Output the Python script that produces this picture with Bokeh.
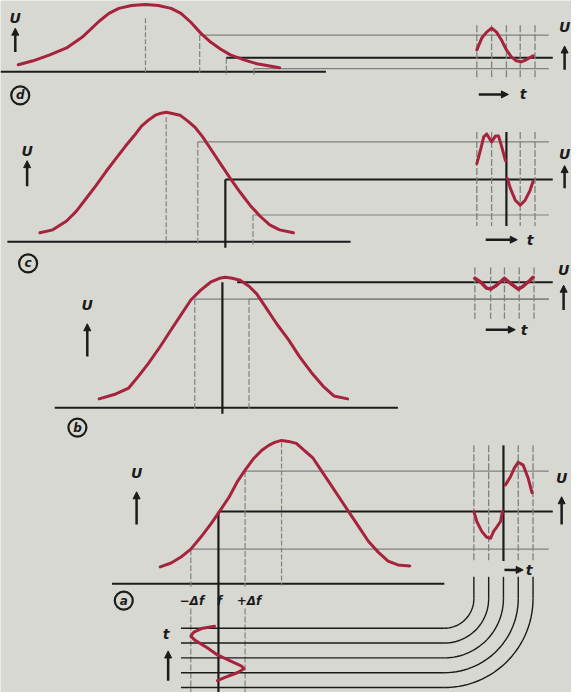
import numpy as np
from bokeh.plotting import figure
from bokeh.models import Range1d, Arrow, NormalHead
from bokeh.core.properties import value
from bokeh.embed import file_html
from bokeh.resources import INLINE

# ---------------- data (page-pixel space) ----------------
# resonance curves of the four panels
d_curve_x = [18, 33, 50, 67, 83, 100, 110, 120, 133, 147, 160, 173, 183, 193, 203, 213, 223, 233, 247, 260, 283]
d_curve_y = [65, 61, 55, 48, 37, 21, 13, 8, 5, 4, 5, 8, 13, 22, 33, 42, 49, 55, 60, 64, 68]
c_curve_x = [40, 53, 67, 77, 87, 97, 107, 117, 127, 137, 143, 150, 157, 163, 168, 173, 182, 190, 197,
             205, 213, 223, 233, 243, 253, 263, 273, 283, 297]
c_curve_y = [235, 232, 223, 213, 200, 187, 173, 160, 147, 135, 127, 121, 116, 114, 113, 114, 116, 122, 128,
             138, 150, 165, 180, 194, 207, 218, 227, 232, 235]
b_curve_x = [100, 117, 130, 140, 150, 162, 173, 183, 193, 203, 213, 222, 228, 235, 243, 252, 260, 270,
             280, 292, 303, 315, 327, 338, 352]
b_curve_y = [403, 398, 392, 380, 367, 350, 333, 318, 303, 293, 285, 281, 280, 281, 283, 289, 297, 312,
             327, 343, 360, 376, 390, 400, 403]
a_curve_x = [162, 173, 183, 193, 203, 213, 222, 232, 240, 248, 257, 265, 272, 278, 285, 292, 300, 308,
             317, 325, 333, 343, 353, 363, 373, 383, 393, 403, 415]
a_curve_y = [573, 569, 563, 555, 543, 530, 517, 502, 487, 475, 463, 455, 450, 447, 445, 446, 448, 455,
             463, 475, 487, 502, 517, 532, 547, 558, 567, 571, 572]

# baselines (y, x from, x to) and peak markers
base_y = {"d": 72, "c": 244, "b": 412, "a": 590}
base_x0 = {"d": 0, "c": 7, "b": 55, "a": 113}
base_x1 = {"d": 330, "c": 355, "b": 403, "a": 450}
peak_x = {"d": 147, "c": 168, "a": 285}
peak_top = {"d": 18, "c": 118, "a": 447}

# frequencies  -df, f, +df  and output levels on the curve
freq_x = {"d": [202, 229, 257], "c": [200, 228, 256], "b": [197, 225, 252], "a": [193, 221, 248]}
level_y = {"d": [35, 58, 69], "c": [143, 181, 217], "b": [302, 285, 302], "a": [555, 517, 476]}
level_x0 = {"d": [202, 229, 257], "c": [200, 228, 256], "b": [197, 240, 252], "a": [193, 221, 248]}

# time-domain output panels
wave_cols = {"d": [483, 498, 513, 527, 542], "c": [483, 498, 513, 527, 542],
             "b": [481, 497, 511, 526, 541], "a": [480, 495, 510, 525, 540]}
wave_top = {"d": 25, "c": 133, "b": 270, "a": 450}
wave_bot = {"d": 80, "c": 228, "b": 322, "a": 567}
wave_black = {"d": False, "c": True, "b": False, "a": True}

d_wave_x = [483, 488, 493, 498, 503, 508, 513, 518, 523, 528, 533, 540]
d_wave_y = [50, 38, 32, 28, 32, 40, 50, 57, 61, 62, 60, 56]
c_wave1_x = [483, 487, 490, 493, 498, 502, 505, 508, 512]
c_wave1_y = [165, 150, 138, 135, 143, 137, 137, 147, 162]
c_wave2_x = [514, 517, 522, 527, 532, 537, 540]
c_wave2_y = [180, 190, 202, 207, 202, 192, 183]
b_wave_x = [481, 487, 493, 497, 503, 511, 517, 525, 530, 537, 540]
b_wave_y = [281, 285, 291, 292, 288, 281, 286, 292, 289, 283, 280]
a_wave1_x = [480, 483, 488, 493, 497, 500, 503, 507, 509]
a_wave1_y = [517, 527, 537, 543, 544, 537, 533, 527, 517]
a_wave2_x = [512, 517, 521, 525, 530, 535, 539]
a_wave2_y = [490, 482, 473, 467, 470, 483, 498]

# frequency sweep (bottom left) and the lead lines
sweep_x = [217, 205, 196, 193, 197, 210, 220, 233, 244, 247, 240, 227, 220]
sweep_y = [633, 635, 639, 643, 647, 655, 662, 668, 673, 676, 680, 685, 688]
lead_levels = [635, 650, 665, 680, 695]
lead_x0 = 183
bend_x, bend_y = 450, 605

# labels
u_left = {"d": (15, 18, 52, 28), "c": (27, 152, 188, 162), "b": (88, 308, 360, 327), "a": (138, 478, 530, 497)}
u_right = {"d": (572, 27, 70, 46), "c": (572, 155, 190, 167), "b": (571, 273, 313, 288), "a": (569, 483, 530, 502)}
t_arrow = {"d": (485, 515, 95, 530), "c": (492, 524, 242, 537), "b": (492, 522, 333, 531), "a": (511, 530, 576, 536)}
circ = {"d": (20, 96), "c": (28, 266), "b": (78, 432), "a": (125, 607)}
df_labels = ["−Δf", "f", "+Δf"]
df_label_x = [194, 222, 252]
df_label_y = 607

# ---------------- styles ----------------
PAPER = "#d8d8d3"
RED = "#a5233c"
BLACK = "#1b1b1b"
GRAY = "#808080"
FONT = value("DejaVu Sans")

p = figure(width=571, height=692, x_range=Range1d(0, 579), y_range=Range1d(700, 0),
           output_backend="svg", toolbar_location=None, min_border=0)
p.axis.visible = False
p.grid.visible = False
p.background_fill_color = PAPER
p.border_fill_color = PAPER
p.outline_line_color = None


def arrow(x0, y0, x1, y1, w=2.5, size=7):
    p.add_layout(Arrow(end=NormalHead(size=size, fill_color=BLACK, line_color=BLACK, line_width=1),
                       x_start=x0, y_start=y0, x_end=x1, y_end=y1, line_width=w, line_color=BLACK))


def label(x, y, s, size="15px", style="bold italic"):
    p.text(x=[x], y=[y], text=[s], text_font=FONT, text_font_style=style, text_font_size=size,
           text_align="center", text_baseline="middle", text_color=BLACK)


curves = {"d": (d_curve_x, d_curve_y), "c": (c_curve_x, c_curve_y),
          "b": (b_curve_x, b_curve_y), "a": (a_curve_x, a_curve_y)}

for k in ["d", "c", "b", "a"]:
    by = base_y[k]
    # baseline
    p.line([base_x0[k], base_x1[k]], [by, by], line_color=BLACK, line_width=2)
    # peak marker
    if k in peak_x:
        p.line([peak_x[k], peak_x[k]], [peak_top[k], by + 2], line_color=GRAY, line_width=1.2, line_dash="5 2")
    # frequency verticals + output level lines
    for i in range(3):
        fx, ly = freq_x[k][i], level_y[k][i]
        center = (i == 1)
        if center and k != "d":
            vbot = 700 if k == "a" else by + 6
            p.line([fx, fx], [ly, vbot], line_color=BLACK, line_width=2.2)
        else:
            p.line([fx, fx], [ly, by + 3], line_color=GRAY, line_width=1.2, line_dash="6 2")
        if center:
            p.line([level_x0[k][i], 560], [ly, ly], line_color=BLACK, line_width=2)
        else:
            p.line([level_x0[k][i], 556], [ly, ly], line_color=GRAY, line_width=1.2)
    # time-domain grid
    for j, wx in enumerate(wave_cols[k]):
        if j == 2 and wave_black[k]:
            p.line([wx, wx], [wave_top[k], wave_bot[k]], line_color=BLACK, line_width=2.2)
        else:
            p.line([wx, wx], [wave_top[k], wave_bot[k]], line_color=GRAY, line_width=1.3, line_dash="7 2")
    # resonance curve
    cx, cy = curves[k]
    p.line(cx, cy, line_color=RED, line_width=3, line_join="round", line_cap="round")
    # U labels
    ux, uy, ay0, ay1 = u_left[k]
    label(ux, uy, "U", "14px")
    arrow(ux, ay0, ux, ay1)
    ux, uy, ay0, ay1 = u_right[k]
    label(ux, uy, "U", "14px")
    arrow(ux, ay0, ux, ay1)
    tx0, tx1, ty, tlx = t_arrow[k]
    arrow(tx0, ty, tx1, ty)
    label(tlx, ty, "t", "14px")
    # circled letter
    cxl, cyl = circ[k]
    p.scatter([cxl], [cyl], marker="circle", size=18, fill_color=None, line_color=BLACK, line_width=2.2)
    label(cxl, cyl, k, "12px")

# output waveforms
for wx_, wy_, lw in [(d_wave_x, d_wave_y, 3), (c_wave1_x, c_wave1_y, 3), (c_wave2_x, c_wave2_y, 3),
                     (b_wave_x, b_wave_y, 3.5), (a_wave1_x, a_wave1_y, 3), (a_wave2_x, a_wave2_y, 3)]:
    p.line(wx_, wy_, line_color=RED, line_width=lw, line_join="round", line_cap="round")

# lower part: sweep, lead lines, bends
for fx in [freq_x["a"][0], freq_x["a"][2]]:
    p.line([fx, fx], [615, 700], line_color=GRAY, line_width=1.2, line_dash="6 2")
theta = np.linspace(0, np.pi / 2, 30)
for lvl, vx in zip(lead_levels, wave_cols["a"]):
    r = vx - bend_x
    p.line([lead_x0, bend_x], [lvl, lvl], line_color=BLACK, line_width=1.4)
    p.line(bend_x + r * np.sin(theta), bend_y + (lvl - bend_y) * np.cos(theta), line_color=BLACK, line_width=1.4)
    p.line([vx, vx], [583, bend_y], line_color=BLACK, line_width=1.4)

p.line(sweep_x, sweep_y, line_color=RED, line_width=3, line_join="round", line_cap="round")
label(168, 641, "t", "14px")
arrow(170, 688, 170, 658)
for s, x in zip(df_labels, df_label_x):
    label(x, df_label_y, s, "12px")

open("out.html", "w").write(file_html(p, INLINE))
